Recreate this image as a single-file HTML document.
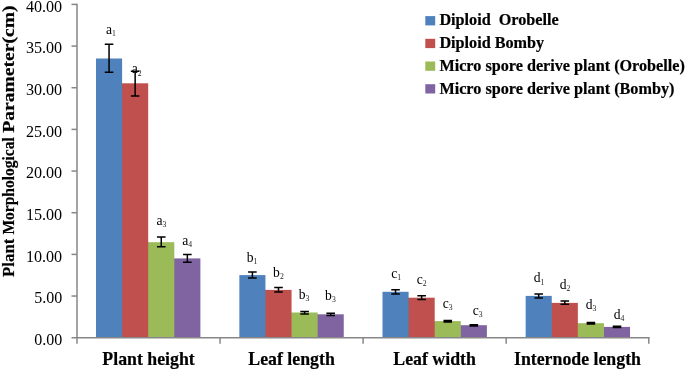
<!DOCTYPE html><html><head><meta charset="utf-8"><title>chart</title><style>html,body{margin:0;padding:0;background:#fff}svg{display:block}text{font-family:"Liberation Serif",serif}</style></head><body>
<svg width="685" height="369" viewBox="0 0 685 369">
<rect width="685" height="369" fill="#fff"/>
<rect x="173.60" y="258.40" width="26.80" height="79.30" fill="#8064A2"/>
<rect x="147.50" y="242.20" width="26.80" height="95.50" fill="#9BBB59"/>
<rect x="121.40" y="83.30" width="26.80" height="254.40" fill="#C0504D"/>
<rect x="96.00" y="58.50" width="26.10" height="279.20" fill="#4F81BD"/>
<rect x="316.95" y="314.30" width="26.80" height="23.40" fill="#8064A2"/>
<rect x="290.85" y="312.50" width="26.80" height="25.20" fill="#9BBB59"/>
<rect x="264.75" y="289.90" width="26.80" height="47.80" fill="#C0504D"/>
<rect x="239.35" y="275.10" width="26.10" height="62.60" fill="#4F81BD"/>
<rect x="460.10" y="325.20" width="26.80" height="12.50" fill="#8064A2"/>
<rect x="434.00" y="321.10" width="26.80" height="16.60" fill="#9BBB59"/>
<rect x="407.90" y="297.70" width="26.80" height="40.00" fill="#C0504D"/>
<rect x="382.50" y="291.80" width="26.10" height="45.90" fill="#4F81BD"/>
<rect x="603.25" y="326.90" width="26.80" height="10.80" fill="#8064A2"/>
<rect x="577.15" y="323.20" width="26.80" height="14.50" fill="#9BBB59"/>
<rect x="551.05" y="302.90" width="26.80" height="34.80" fill="#C0504D"/>
<rect x="525.65" y="295.90" width="26.10" height="41.80" fill="#4F81BD"/>
<g stroke="#878787" stroke-width="1.5" fill="none">
<path d="M77.0 3.6500000000000004 V343.7"/>
<path d="M71.5 337.7 H649.55"/>
<path d="M71.5 4.40 H77.0"/>
<path d="M71.5 46.06 H77.0"/>
<path d="M71.5 87.72 H77.0"/>
<path d="M71.5 129.39 H77.0"/>
<path d="M71.5 171.05 H77.0"/>
<path d="M71.5 212.71 H77.0"/>
<path d="M71.5 254.38 H77.0"/>
<path d="M71.5 296.04 H77.0"/>
<path d="M220.05 337.7 V343.7"/>
<path d="M363.10 337.7 V343.7"/>
<path d="M506.15 337.7 V343.7"/>
<path d="M648.80 337.7 V343.7"/>
</g>
<g stroke="#000" stroke-width="1.5" fill="none">
<path d="M109.05 44.30 V72.20 M104.75 44.30 H113.35 M104.75 72.20 H113.35"/>
<path d="M135.15 71.30 V96.00 M130.85 71.30 H139.45 M130.85 96.00 H139.45"/>
<path d="M161.25 237.00 V246.70 M156.95 237.00 H165.55 M156.95 246.70 H165.55"/>
<path d="M187.35 254.50 V262.30 M183.05 254.50 H191.65 M183.05 262.30 H191.65"/>
<path d="M252.40 272.00 V278.00 M248.10 272.00 H256.70 M248.10 278.00 H256.70"/>
<path d="M278.50 287.60 V292.10 M274.20 287.60 H282.80 M274.20 292.10 H282.80"/>
<path d="M304.60 311.60 V314.10 M300.30 311.60 H308.90 M300.30 314.10 H308.90"/>
<path d="M330.70 313.30 V315.60 M326.40 313.30 H335.00 M326.40 315.60 H335.00"/>
<path d="M395.55 289.70 V294.00 M391.25 289.70 H399.85 M391.25 294.00 H399.85"/>
<path d="M421.65 295.70 V299.40 M417.35 295.70 H425.95 M417.35 299.40 H425.95"/>
<path d="M447.75 320.40 V321.90 M443.45 320.40 H452.05 M443.45 321.90 H452.05"/>
<path d="M473.85 324.70 V326.00 M469.55 324.70 H478.15 M469.55 326.00 H478.15"/>
<path d="M538.70 294.00 V297.90 M534.40 294.00 H543.00 M534.40 297.90 H543.00"/>
<path d="M564.80 301.10 V304.20 M560.50 301.10 H569.10 M560.50 304.20 H569.10"/>
<path d="M590.90 322.50 V323.90 M586.60 322.50 H595.20 M586.60 323.90 H595.20"/>
<path d="M617.00 326.20 V327.40 M612.70 326.20 H621.30 M612.70 327.40 H621.30"/>
</g>
<text x="25.90" y="11.60" font-size="16" textLength="36.3" lengthAdjust="spacingAndGlyphs" fill="#000">40.00</text>
<text x="25.90" y="53.26" font-size="16" textLength="36.3" lengthAdjust="spacingAndGlyphs" fill="#000">35.00</text>
<text x="25.90" y="94.92" font-size="16" textLength="36.3" lengthAdjust="spacingAndGlyphs" fill="#000">30.00</text>
<text x="25.90" y="136.59" font-size="16" textLength="36.3" lengthAdjust="spacingAndGlyphs" fill="#000">25.00</text>
<text x="25.90" y="178.25" font-size="16" textLength="36.3" lengthAdjust="spacingAndGlyphs" fill="#000">20.00</text>
<text x="25.90" y="219.91" font-size="16" textLength="36.3" lengthAdjust="spacingAndGlyphs" fill="#000">15.00</text>
<text x="25.90" y="261.57" font-size="16" textLength="36.3" lengthAdjust="spacingAndGlyphs" fill="#000">10.00</text>
<text x="34.20" y="303.24" font-size="16" textLength="28.0" lengthAdjust="spacingAndGlyphs" fill="#000">5.00</text>
<text x="34.20" y="344.90" font-size="16" textLength="28.0" lengthAdjust="spacingAndGlyphs" fill="#000">0.00</text>
<text x="148.53" y="364.9" font-size="17.8" font-weight="bold" text-anchor="middle" fill="#000" stroke="#000" stroke-width="0.2">Plant height</text>
<text x="291.58" y="364.9" font-size="17.8" font-weight="bold" text-anchor="middle" fill="#000" stroke="#000" stroke-width="0.2">Leaf length</text>
<text x="434.62" y="364.9" font-size="17.8" font-weight="bold" text-anchor="middle" fill="#000" stroke="#000" stroke-width="0.2">Leaf width</text>
<text x="577.48" y="364.9" font-size="17.8" font-weight="bold" text-anchor="middle" fill="#000" stroke="#000" stroke-width="0.2">Internode length</text>
<g transform="translate(13.9 0) rotate(-90)" font-weight="bold" fill="#000" stroke="#000" stroke-width="0.2">
<text x="-276.90" y="0" font-size="16.6" textLength="38.2" lengthAdjust="spacingAndGlyphs">Plant</text>
<text x="-234.60" y="0" font-size="16.2" textLength="97.3" lengthAdjust="spacingAndGlyphs">Morphological</text>
<text x="-132.80" y="0" font-size="17.6" textLength="127.3" lengthAdjust="spacingAndGlyphs">Parameter(cm)</text>
</g>
<rect x="425.3" y="16.10" width="9.9" height="9.3" fill="#4F81BD"/>
<text x="439.4" y="25.30" font-size="16.2" font-weight="bold" fill="#000" stroke="#000" stroke-width="0.2" xml:space="preserve" style="white-space:pre">Diploid  Orobelle</text>
<rect x="425.3" y="38.80" width="9.9" height="9.3" fill="#C0504D"/>
<text x="439.4" y="48.00" font-size="16.2" font-weight="bold" fill="#000" stroke="#000" stroke-width="0.2" xml:space="preserve" style="white-space:pre">Diploid Bomby</text>
<rect x="425.3" y="61.50" width="9.9" height="9.3" fill="#9BBB59"/>
<text x="439.4" y="70.70" font-size="16.2" font-weight="bold" fill="#000" stroke="#000" stroke-width="0.2" xml:space="preserve" style="white-space:pre">Micro spore derive plant (Orobelle)</text>
<rect x="425.3" y="84.20" width="9.9" height="9.3" fill="#8064A2"/>
<text x="439.4" y="93.50" font-size="16.2" font-weight="bold" fill="#000" stroke="#000" stroke-width="0.2" xml:space="preserve" style="white-space:pre">Micro spore derive plant (Bomby)</text>
<text x="106.00" y="33.90" font-size="13.6" fill="#000">a<tspan font-size="7.7" dy="2.2" fill="#222">1</tspan></text>
<text x="131.70" y="73.30" font-size="13.6" fill="#000">a<tspan font-size="7.7" dy="2.2" fill="#222">2</tspan></text>
<text x="156.40" y="225.10" font-size="13.6" fill="#000">a<tspan font-size="7.7" dy="2.2" fill="#222">3</tspan></text>
<text x="182.20" y="244.80" font-size="13.6" fill="#000">a<tspan font-size="7.7" dy="2.2" fill="#222">4</tspan></text>
<text x="246.80" y="261.50" font-size="13.6" fill="#000">b<tspan font-size="7.7" dy="2.2" fill="#222">1</tspan></text>
<text x="273.10" y="276.50" font-size="13.6" fill="#000">b<tspan font-size="7.7" dy="2.2" fill="#222">2</tspan></text>
<text x="298.80" y="299.10" font-size="13.6" fill="#000">b<tspan font-size="7.7" dy="2.2" fill="#222">3</tspan></text>
<text x="325.10" y="300.20" font-size="13.6" fill="#000">b<tspan font-size="7.7" dy="2.2" fill="#222">3</tspan></text>
<text x="391.20" y="278.00" font-size="13.6" fill="#000">c<tspan font-size="7.7" dy="2.2" fill="#222">1</tspan></text>
<text x="416.70" y="284.00" font-size="13.6" fill="#000">c<tspan font-size="7.7" dy="2.2" fill="#222">2</tspan></text>
<text x="442.70" y="307.60" font-size="13.6" fill="#000">c<tspan font-size="7.7" dy="2.2" fill="#222">3</tspan></text>
<text x="472.80" y="315.00" font-size="13.6" fill="#000">c<tspan font-size="7.7" dy="2.2" fill="#222">3</tspan></text>
<text x="533.80" y="282.30" font-size="13.6" fill="#000">d<tspan font-size="7.7" dy="2.2" fill="#222">1</tspan></text>
<text x="559.80" y="289.00" font-size="13.6" fill="#000">d<tspan font-size="7.7" dy="2.2" fill="#222">2</tspan></text>
<text x="585.80" y="308.90" font-size="13.6" fill="#000">d<tspan font-size="7.7" dy="2.2" fill="#222">3</tspan></text>
<text x="613.70" y="318.70" font-size="13.6" fill="#000">d<tspan font-size="7.7" dy="2.2" fill="#222">4</tspan></text>
</svg></body></html>
